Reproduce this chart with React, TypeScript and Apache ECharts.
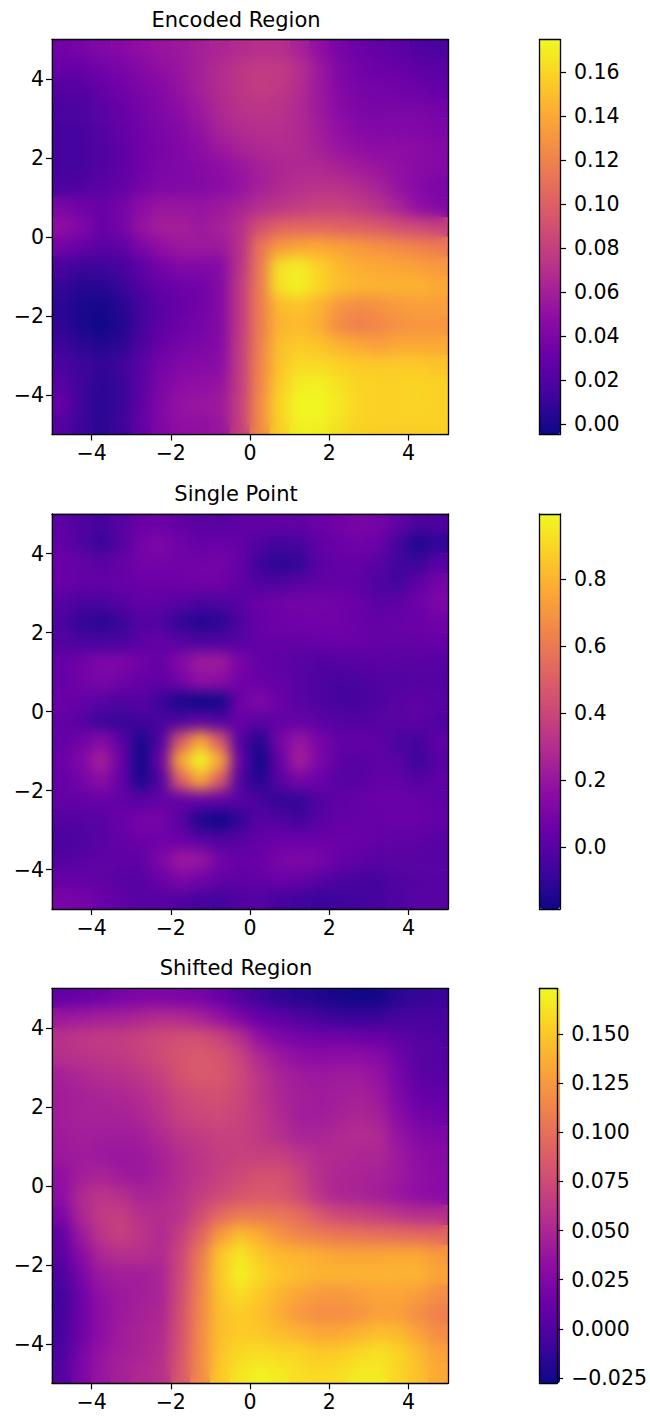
import React, { useEffect, useRef } from "react";
import * as echarts from "echarts";

const cellCenters = [-4.75,-4.25,-3.75,-3.25,-2.75,-2.25,-1.75,-1.25,-0.75,-0.25,0.25,0.75,1.25,1.75,2.25,2.75,3.25,3.75,4.25,4.75];
const axisTicks = [-4,-2,0,2,4];
const plasma = ["#0d0887","#41049d","#6a00a8","#8f0da4","#b12a90","#cc4778","#e16462","#f1844b","#fca636","#fcce25","#f0f921"];

// rows run from the top of the plot (y = 4.75) to the bottom (y = -4.75)
const encodedRegion = [
[.035,.038,.042,.045,.05,.054,.056,.06,.064,.068,.07,.07,.062,.05,.038,.032,.028,.025,.02,.018],
[.03,.03,.034,.038,.044,.05,.054,.06,.068,.074,.078,.077,.07,.056,.042,.035,.032,.03,.026,.024],
[.022,.022,.028,.034,.04,.044,.052,.06,.068,.074,.078,.076,.068,.056,.044,.038,.036,.034,.032,.028],
[.018,.018,.024,.03,.036,.042,.048,.056,.066,.072,.074,.072,.066,.056,.046,.04,.038,.038,.038,.036],
[.016,.016,.022,.028,.034,.04,.044,.052,.062,.068,.07,.07,.066,.058,.05,.044,.042,.042,.042,.04],
[.016,.016,.02,.026,.034,.038,.042,.048,.056,.062,.066,.068,.066,.06,.054,.05,.048,.048,.046,.044],
[.016,.016,.02,.026,.034,.04,.042,.044,.048,.054,.06,.064,.066,.066,.062,.058,.054,.05,.046,.044],
[.018,.02,.024,.028,.036,.042,.042,.044,.046,.052,.06,.066,.07,.072,.072,.068,.062,.052,.044,.04],
[.04,.034,.03,.036,.048,.054,.054,.052,.056,.062,.07,.074,.078,.082,.082,.078,.072,.062,.05,.042],
[.05,.042,.03,.036,.052,.06,.06,.056,.06,.07,.09,.102,.104,.104,.102,.1,.096,.09,.086,.082],
[.036,.03,.024,.026,.04,.05,.056,.056,.056,.07,.112,.132,.138,.14,.136,.132,.128,.124,.12,.116],
[.018,.012,.012,.016,.026,.036,.042,.042,.044,.072,.114,.165,.17,.158,.148,.142,.14,.138,.136,.132],
[.01,.004,.004,.01,.02,.028,.032,.034,.044,.076,.116,.165,.172,.16,.15,.146,.145,.145,.145,.14],
[.006,0,-.002,.004,.014,.024,.03,.034,.044,.076,.116,.148,.152,.145,.13,.125,.128,.132,.135,.135],
[.008,0,-.004,.002,.014,.026,.032,.036,.044,.076,.116,.145,.148,.142,.124,.118,.122,.128,.13,.13],
[.012,.006,.002,.006,.018,.03,.036,.04,.044,.078,.118,.15,.155,.152,.145,.14,.135,.14,.14,.14],
[.018,.012,.008,.012,.024,.036,.042,.044,.046,.078,.12,.152,.162,.162,.158,.155,.155,.155,.155,.152],
[.024,.012,.006,.01,.024,.04,.048,.05,.052,.078,.122,.155,.17,.172,.165,.16,.158,.158,.16,.158],
[.03,.012,.005,.01,.026,.042,.052,.054,.056,.08,.124,.16,.174,.174,.168,.16,.158,.158,.16,.158],
[.022,.012,.006,.012,.028,.042,.05,.05,.054,.08,.124,.158,.172,.172,.165,.16,.158,.158,.158,.158],
];
const singlePoint = [
[.02,-.02,-.05,0,.05,.06,.03,0,0,.02,.03,.03,.03,.05,.08,.1,.09,.03,-.03,-.02],
[.03,-.03,-.09,-.01,.08,.11,.06,.03,.05,.03,-.02,-.06,-.05,.02,.05,.07,.05,-.06,-.15,-.1],
[.05,.03,0,.03,.08,.08,.07,.07,.08,.04,-.08,-.12,-.1,0,.03,.03,0,-.07,-.08,0],
[.05,.03,.03,.04,.05,.05,.06,.07,.07,.02,-.02,-.03,0,.02,.03,.02,-.03,-.06,.02,.09],
[0,-.04,-.04,-.01,.03,.02,0,-.04,-.03,0,.05,.07,.08,.08,.07,.05,0,.02,.06,.11],
[-.03,-.1,-.12,-.09,-.01,-.03,-.1,-.14,-.12,-.03,.04,.06,.06,.07,.07,.05,.03,.04,.05,.07],
[-.01,-.04,-.05,-.04,.01,.03,0,-.03,-.02,0,.03,.03,.03,.04,.05,.05,.03,.03,.03,.04],
[.04,.07,.11,.11,.07,.04,.13,.22,.22,.1,.03,.02,0,-.02,-.01,0,.01,0,0,0],
[.04,.07,.1,.07,.04,.02,.08,.17,.15,.07,.05,.03,0,-.03,-.05,-.04,-.02,-.02,-.01,-.01],
[.05,.03,0,-.03,0,-.08,-.16,-.185,-.17,.06,.12,.05,0,-.03,-.05,-.05,-.03,0,.02,0],
[.03,-.01,-.08,-.09,-.07,-.04,-.03,.02,-.02,.05,0,.03,.03,.01,-.01,-.02,-.01,0,.01,-.02],
[.03,.07,.14,.02,-.15,-.02,.48,.76,.48,-.02,-.13,.09,.2,.1,.03,.03,.02,-.04,-.05,.02],
[.05,.12,.24,.05,-.18,.06,.76,.99,.76,.04,-.18,.04,.24,.11,.02,-.01,.02,0,-.08,0],
[.04,.08,.16,.03,-.15,-.02,.5,.76,.48,-.02,-.13,0,.09,.05,0,0,.03,.02,-.01,.02],
[.03,.03,.04,.03,0,.03,.03,.03,.03,0,-.05,-.1,-.1,-.02,.02,.03,.05,.05,.04,.02],
[-.01,-.01,0,.05,.09,.09,0,-.15,-.185,-.1,0,-.02,-.07,0,.03,.04,.04,.05,.05,.03],
[-.04,-.03,0,.03,.06,.06,.05,0,-.03,0,.03,.05,.05,.05,.05,.05,.03,.02,.02,0],
[-.01,0,.02,.02,.02,.11,.21,.2,.08,.04,.05,.1,.11,.1,.05,.02,0,0,0,0],
[.04,.03,.02,0,0,.05,.11,.08,.03,.02,.03,.05,.04,0,-.03,-.05,-.05,-.02,-.01,0],
[.1,.09,.05,.02,0,0,-.02,-.05,-.06,-.02,-.01,-.05,-.07,-.08,-.07,-.06,-.05,-.03,0,0],
];
const shiftedRegion = [
[.01,.012,.015,.02,.024,.024,.022,.02,.012,.002,-.008,-.014,-.018,-.02,-.024,-.026,-.025,-.016,-.012,-.01],
[.04,.042,.045,.046,.05,.054,.052,.046,.036,.022,.012,.006,0,-.005,-.01,-.01,-.01,-.005,-.004,-.004],
[.058,.062,.064,.065,.07,.074,.078,.078,.07,.056,.034,.024,.018,.016,.016,.014,.012,.006,.002,0],
[.056,.058,.06,.062,.068,.075,.082,.085,.082,.07,.052,.04,.032,.03,.032,.032,.028,.015,.004,.002],
[.046,.05,.054,.056,.06,.068,.08,.085,.084,.074,.06,.048,.042,.04,.042,.042,.036,.02,.006,.004],
[.044,.046,.048,.05,.054,.062,.072,.076,.078,.072,.06,.05,.044,.042,.044,.046,.04,.024,.012,.01],
[.044,.046,.046,.046,.05,.058,.068,.072,.074,.07,.062,.052,.044,.042,.046,.05,.046,.03,.018,.015],
[.042,.044,.042,.042,.044,.052,.06,.064,.068,.068,.062,.056,.048,.048,.052,.054,.052,.036,.026,.024],
[.04,.042,.04,.038,.04,.046,.054,.06,.066,.068,.068,.068,.06,.054,.052,.05,.05,.04,.032,.028],
[.034,.044,.048,.042,.04,.046,.054,.06,.068,.074,.08,.08,.07,.056,.05,.048,.046,.04,.034,.03],
[.032,.052,.06,.056,.048,.05,.056,.066,.074,.082,.086,.084,.074,.058,.05,.048,.044,.038,.032,.03],
[.022,.05,.064,.066,.056,.054,.058,.076,.096,.106,.106,.104,.098,.084,.074,.07,.066,.06,.056,.056],
[.008,.04,.06,.068,.06,.052,.066,.092,.126,.145,.136,.122,.112,.108,.104,.102,.1,.098,.096,.094],
[.006,.03,.05,.056,.056,.052,.072,.106,.148,.165,.15,.142,.14,.136,.132,.132,.132,.134,.134,.126],
[-.002,.02,.04,.044,.044,.048,.074,.11,.15,.17,.158,.148,.144,.14,.14,.14,.14,.14,.14,.132],
[-.006,.016,.034,.04,.044,.048,.076,.112,.148,.16,.15,.14,.132,.126,.124,.128,.132,.132,.128,.118],
[-.006,.014,.032,.04,.046,.05,.078,.114,.145,.152,.146,.136,.124,.118,.118,.122,.13,.128,.118,.11],
[-.004,.016,.032,.042,.048,.052,.08,.116,.145,.152,.15,.144,.14,.134,.134,.14,.146,.142,.132,.118],
[-.002,.02,.036,.044,.048,.054,.082,.116,.148,.158,.16,.158,.156,.15,.152,.158,.162,.156,.144,.13],
[.002,.022,.038,.046,.052,.056,.084,.116,.15,.164,.17,.166,.16,.158,.16,.166,.166,.156,.146,.134],
];

const titles = ["Encoded Region", "Single Point", "Shifted Region"];
const panels = [encodedRegion, singlePoint, shiftedRegion];
const scaleMin = [-0.0048, -0.185, -0.0277];
const scaleMax = [0.1749, 0.994, 0.1732];
const barTicks = [
  [0, 0.02, 0.04, 0.06, 0.08, 0.1, 0.12, 0.14, 0.16],
  [0, 0.2, 0.4, 0.6, 0.8],
  [-0.025, 0, 0.025, 0.05, 0.075, 0.1, 0.125, 0.15],
];
const barDigits = [2, 1, 3];
const plotTop = [39.5, 514, 988.3];

const FONT = "DejaVu Sans";
const TICK_SIZE = 20.5;
const TITLE_SIZE = 21;
const PLOT_H = 395;
const line = { show: true, onZero: false, lineStyle: { color: "#000", width: 1.3 } };
const tick = { show: true, length: 6, lineStyle: { color: "#000", width: 1.2 } };
const minus = (s: string) => s.replace("-", "\u2212");

function buildOption() {
  const grid: any[] = [], xAxis: any[] = [], yAxis: any[] = [], series: any[] = [], title: any[] = [], visualMap: any[] = [];
  const frame = (gridIndex: number, position: string, min: number, max: number) => ({
    type: "value", gridIndex, position, min, max, z: 5, axisLine: line, axisTick: { show: false }, axisLabel: { show: false }, splitLine: { show: false },
  });
  panels.forEach((rows, i) => {
    grid.push({ left: 52, top: plotTop[i], width: 396, height: PLOT_H });
    const hidden = { type: "category", gridIndex: i, show: false, data: cellCenters };
    xAxis.push(hidden);
    yAxis.push(hidden);
    series.push({
      type: "heatmap", xAxisIndex: i, yAxisIndex: i, progressive: 0,
      data: rows.flatMap((row, r) => row.map((v, c) => [c, rows.length - 1 - r, v])),
      itemStyle: { borderWidth: 0 }, emphasis: { disabled: true },
    });
    title.push({
      text: titles[i], left: 231, top: plotTop[i] - 35.5, textAlign: "center",
      textStyle: { fontFamily: FONT, fontSize: TITLE_SIZE, fontWeight: "normal", color: "#000" },
    });
    visualMap.push({
      type: "continuous", seriesIndex: i, min: scaleMin[i], max: scaleMax[i], dimension: 2,
      left: 539.5, top: plotTop[i], itemWidth: 20.5, itemHeight: PLOT_H, padding: 0, text: null,
      calculable: false, hoverLink: false, inRange: { color: plasma },
    });
  });
  panels.forEach((_, i) => {
    const labelled = (position: string) => ({
      type: "value", gridIndex: i, position, min: -5, max: 5, z: 5, axisLine: line, splitLine: { show: false },
      axisTick: { ...tick, customValues: axisTicks },
      axisLabel: { customValues: axisTicks, formatter: (v: number) => minus(String(v)), fontFamily: FONT, fontSize: TICK_SIZE, color: "#000", margin: 8 },
    });
    xAxis.push(labelled("bottom"), frame(i, "top", -5, 5));
    yAxis.push(labelled("left"), frame(i, "right", -5, 5));
  });
  panels.forEach((_, i) => {
    const g = 3 + i;
    grid.push({ left: 539.5, top: plotTop[i], width: 20.5, height: PLOT_H });
    xAxis.push(frame(g, "bottom", 0, 1), frame(g, "top", 0, 1));
    yAxis.push(frame(g, "left", scaleMin[i], scaleMax[i]), {
      type: "value", gridIndex: g, position: "right", min: scaleMin[i], max: scaleMax[i], z: 5, axisLine: line, splitLine: { show: false },
      axisTick: { ...tick, customValues: barTicks[i] },
      axisLabel: { customValues: barTicks[i], formatter: (v: number) => minus(v.toFixed(barDigits[i])), fontFamily: FONT, fontSize: TICK_SIZE, color: "#000", margin: 14, padding: [2, 0, 0, 0] },
    });
  });
  return { animation: false, backgroundColor: "#fff", grid, xAxis, yAxis, series, title, visualMap };
}

export default function App() {
  const ref = useRef<HTMLDivElement>(null);
  useEffect(() => {
    document.body.style.margin = "0";
    const chart = echarts.init(ref.current!, undefined, { renderer: "svg" });
    chart.setOption(buildOption() as any);
    return () => chart.dispose();
  }, []);
  return (
    <div style={{ position: "relative", width: 650, height: 1416 }}>
      <div ref={ref} style={{ width: 650, height: 1416 }} />
      {plotTop.map((top) => (
        <div key={top} style={{
          position: "absolute", left: 53, top: top + 1, width: 394, height: PLOT_H - 2,
          backdropFilter: "blur(7px)", WebkitBackdropFilter: "blur(7px)", pointerEvents: "none",
        }} />
      ))}
    </div>
  );
}
